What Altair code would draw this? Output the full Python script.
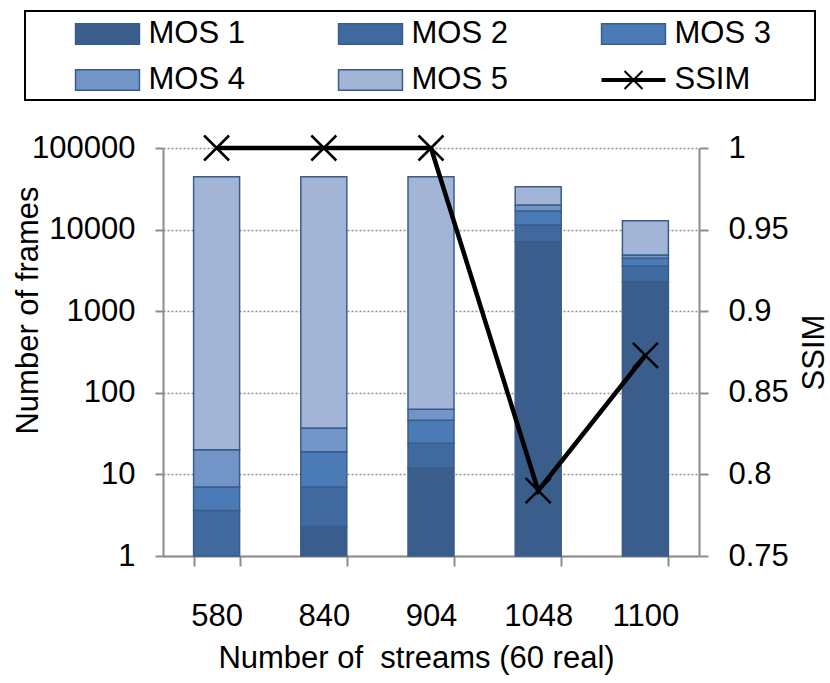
import altair as alt
import pandas as pd

# Stream counts on the x axis
streams = ["580", "840", "904", "1048", "1100"]

# Frames per MOS grade for each stream count (stacked, log scale)
mos1 = [0, 2.3, 12, 7100, 2300]
mos2 = [3.6, 4.7, 12, 4300, 1280]
mos3 = [3.4, 12, 22, 5500, 870]
mos4 = [13, 18, 17, 3100, 430]
mos5 = [44480, 44463, 44437, 13500, 7970]

# Mean SSIM per stream count (right axis)
ssim = [1.0, 1.0, 1.0, 0.79, 0.873]

mos_names = ["MOS 1", "MOS 2", "MOS 3", "MOS 4", "MOS 5"]
mos_colors = ["#3a5d8b", "#4069a0", "#4a7bb7", "#7394c6", "#a2b5d6"]
legend_names = mos_names + ["SSIM"]

FONT = "Liberation Sans"
FS = 31
EDGE = "#385d8a"
AXIS_GREY = "#8c8c8c"

# Build stacked segments: lower/upper cumulative bounds, starting at 1 on the log axis
rows = []
series = [mos1, mos2, mos3, mos4, mos5]
for i, s in enumerate(streams):
    cum = 0.0
    for name, vals in zip(mos_names, series):
        v = vals[i]
        lo = cum
        cum += v
        if v > 0:
            rows.append({"streams": s, "grade": name,
                         "lo": max(lo, 1.0), "hi": cum, "frames": v})
bars_df = pd.DataFrame(rows)
ssim_df = pd.DataFrame({"streams": streams, "ssim": ssim})

legend_df = pd.DataFrame({
    "name": legend_names,
    "col": [i % 3 for i in range(len(legend_names))],
    "row": [i // 3 for i in range(len(legend_names))],
})

x_band = alt.X(
    "streams:N", sort=streams,
    scale=alt.Scale(type="band", paddingInner=0.571, paddingOuter=0.2855),
    axis=alt.Axis(
        title="Number of\u00a0 streams (60 real)",
        titleFont=FONT, titleFontSize=FS, titleFontWeight="normal", titleColor="black",
        titleX=253, titleY=111, titleBaseline="alphabetic", titleAlign="center",
        labelFont=FONT, labelFontSize=FS, labelColor="black", labelAngle=0,
        labelPadding=35, tickBand="extent", tickSize=10, tickColor=AXIS_GREY,
        tickWidth=2, domainColor=AXIS_GREY, domainWidth=2, grid=False,
    ),
)

bars = alt.Chart(bars_df).mark_bar(stroke=EDGE, strokeWidth=1.5).encode(
    x=x_band,
    y=alt.Y(
        "lo:Q", stack=None,
        scale=alt.Scale(type="log", domain=[1, 100000], nice=False),
        axis=alt.Axis(
            orient="left", values=[1, 10, 100, 1000, 10000, 100000], format="d",
            title="Number of frames", titleFont=FONT, titleFontSize=FS,
            titleFontWeight="normal", titleColor="black", titleAngle=270,
            titleX=-126, titleY=162, titleAlign="center", titleBaseline="alphabetic",
            labelFont=FONT, labelFontSize=FS, labelColor="black", labelPadding=20,
            tickSize=8, tickColor=AXIS_GREY, tickWidth=2,
            domainColor=AXIS_GREY, domainWidth=2,
            grid=True, gridColor="#8f8f8f", gridDash=[2, 2], gridWidth=1.5,
        ),
    ),
    y2="hi:Q",
    color=alt.Color("grade:N", scale=alt.Scale(domain=mos_names, range=mos_colors),
                    legend=None),
)

ssim_y = alt.Y(
    "ssim:Q",
    scale=alt.Scale(domain=[0.75, 1.0], nice=False, zero=False),
    axis=alt.Axis(
        orient="right", values=[0.75, 0.8, 0.85, 0.9, 0.95, 1.0], format=".2~f",
        title="SSIM", titleFont=FONT, titleFontSize=FS, titleFontWeight="normal",
        titleColor="black", titleAngle=270, titleX=124, titleY=204,
        titleAlign="center", titleBaseline="alphabetic",
        labelFont=FONT, labelFontSize=FS, labelColor="black", labelPadding=20,
        tickSize=9, tickColor=AXIS_GREY, tickWidth=2,
        domainColor=AXIS_GREY, domainWidth=2, grid=False,
    ),
)

ssim_line = alt.Chart(ssim_df).mark_line(color="black", strokeWidth=4.5).encode(
    x=alt.X("streams:N", sort=streams), y=ssim_y,
)
ssim_marks = alt.Chart(ssim_df).mark_point(
    shape="M-1,-1L1,1M-1,1L1,-1", filled=False, stroke="black",
    strokeWidth=2.5, size=625, opacity=1,
).encode(x=alt.X("streams:N", sort=streams), y=ssim_y)

# Line and markers share the SSIM scale; bars keep the log frame scale
ssim_layer = alt.layer(ssim_line, ssim_marks)
plot = alt.layer(bars, ssim_layer).resolve_scale(y="independent")

# Legend box above the plot
lx = alt.X("col:Q", scale=alt.Scale(domain=[0, 1], range=[-55.5, 207.5]), axis=None)
ly = alt.Y("row:Q", scale=alt.Scale(domain=[0, 1], range=[-114, -68]), axis=None)

swatches = alt.Chart(legend_df).transform_filter(
    alt.datum.name != "SSIM"
).mark_point(
    shape="M-1.55,-0.5H1.55V0.5H-1.55Z", filled=True, stroke=EDGE,
    strokeWidth=1.5, size=1700, opacity=1,
).encode(
    x=lx, y=ly,
    fill=alt.Fill("name:N", scale=alt.Scale(domain=mos_names, range=mos_colors),
                  legend=None),
)

key_line = alt.Chart(legend_df).transform_filter(
    alt.datum.name == "SSIM"
).mark_point(
    shape="M-1.55,0H1.55", filled=False, stroke="black", strokeWidth=4,
    size=1700, opacity=1,
).encode(x=lx, y=ly)

key_cross = alt.Chart(legend_df).transform_filter(
    alt.datum.name == "SSIM"
).mark_point(
    shape="M-1,-1L1,1M-1,1L1,-1", filled=False, stroke="black", strokeWidth=2,
    size=324, opacity=1,
).encode(x=lx, y=ly)

key_text = alt.Chart(legend_df).mark_text(
    align="left", baseline="middle", dx=41, font=FONT, fontSize=FS, color="black",
).encode(x=lx, y=ly, text="name:N")

frame = alt.Chart(legend_df).transform_aggregate(n="count()").mark_rect(
    fill=None, stroke="black", strokeWidth=2,
).encode(
    x=alt.value(-138), x2=alt.value(652), y=alt.value(-137), y2=alt.value(-48),
)

chart = alt.layer(
    plot, frame, swatches, key_line, key_cross, key_text
).resolve_scale(
    x="independent", y="independent", fill="independent"
).properties(
    width=536, height=408,
    padding={"left": 163, "top": 148, "right": 131, "bottom": 127},
    autosize=alt.AutoSizeParams(type="none"),
    background="white",
).configure_view(stroke=None)

chart.save("out.html", embed_options={"renderer": "svg", "actions": False})
